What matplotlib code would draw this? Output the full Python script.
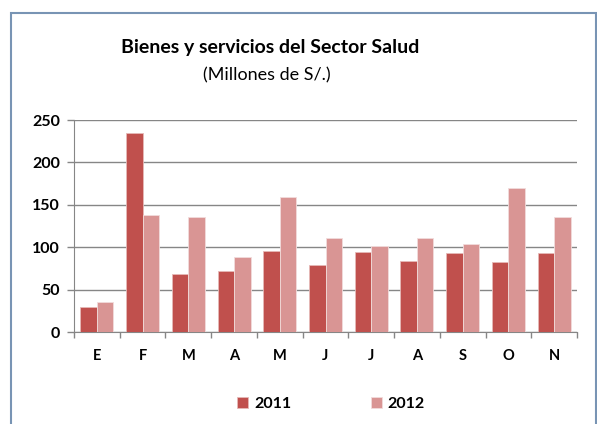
import numpy as np
import matplotlib.pyplot as plt
from matplotlib.patches import Rectangle

plt.rcParams['font.family'] = ['Lato', 'DejaVu Sans']

months = ["E", "F", "M", "A", "M", "J", "J", "A", "S", "O", "N"]
v2011 = [30, 235, 68, 72, 96, 79, 94, 84, 93, 82, 93]
v2012 = [35, 138, 136, 89, 159, 111, 102, 111, 104, 170, 136]
yticks = [0, 50, 100, 150, 200, 250]

c2011 = "#c0504d"
c2012 = "#d99594"
gray = "#868686"

fig = plt.figure(figsize=(5.97, 4.24), dpi=100)
ax = fig.add_axes([74 / 597, 1 - 332 / 424, 503 / 597, 212 / 424])

x = np.arange(len(months))
w = 0.36
ax.bar(x - w / 2, v2011, w, color=c2011, edgecolor="#e6b9b8", linewidth=0.6, label="2011", zorder=3)
ax.bar(x + w / 2, v2012, w, color=c2012, edgecolor="#f2dcdb", linewidth=0.6, label="2012", zorder=3)

ax.set_xlim(-0.5, len(months) - 0.5)
ax.set_ylim(0, 250)
ax.set_yticks(yticks)
ax.set_yticklabels([str(t) for t in yticks], fontsize=11.5, fontweight="bold")
ax.yaxis.grid(True, color=gray, linewidth=1, zorder=0)
ax.set_axisbelow(True)

ax.set_xticks(np.arange(-0.5, len(months), 1))
ax.set_xticklabels([])
ax.set_xticks(x, minor=True)
ax.set_xticklabels(months, minor=True, fontsize=10.5, fontweight="bold")
ax.tick_params(axis="x", which="major", length=4, color=gray, width=1)
ax.tick_params(axis="x", which="minor", length=0, pad=12)
ax.tick_params(axis="y", length=5, color=gray, width=1, pad=5)

for s in ["top", "right"]:
    ax.spines[s].set_visible(False)
ax.spines["left"].set_color(gray)
ax.spines["bottom"].set_color(gray)

fig.text(270 / 597, 1 - 47 / 424, "Bienes y servicios del Sector Salud",
         ha="center", va="center", fontsize=14, fontweight="bold")
fig.text(267 / 597, 1 - 75 / 424, "(Millones de S/.)",
         ha="center", va="center", fontsize=13)

fig.legend(loc="center", bbox_to_anchor=(331 / 597, 1 - 404 / 424), ncol=2, frameon=False,
           prop={"size": 11.5, "weight": "bold"}, handlelength=0.7, handleheight=0.7,
           handletextpad=0.35, columnspacing=5.0)

fig.patches.append(Rectangle((10.5 / 597, -0.1), 585 / 597, 1.1 - 13.5 / 424,
                             transform=fig.transFigure, fill=False,
                             edgecolor="#7894b4", linewidth=1.5, clip_on=False))

fig.savefig("out.png", dpi=100)
